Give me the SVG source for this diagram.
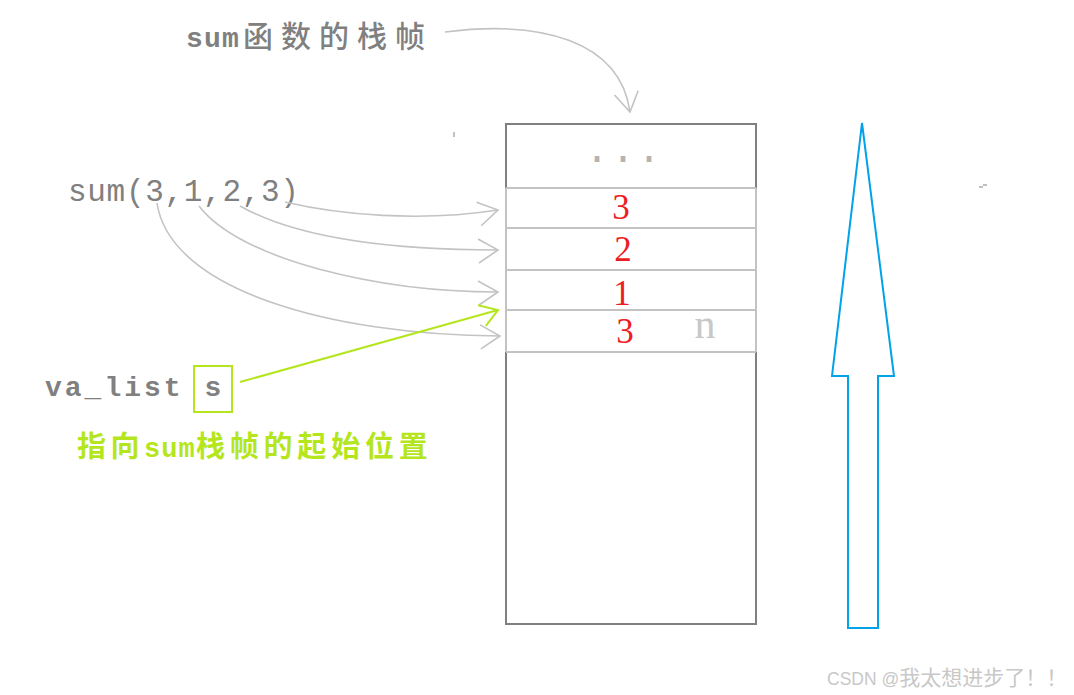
<svg xmlns="http://www.w3.org/2000/svg" width="1074" height="695" viewBox="0 0 1074 695">
<style>
.gray{fill:#808080}
.mono{font-family:"Liberation Mono","Noto Sans CJK SC",monospace}
.cjk{font-family:"Noto Sans CJK SC",sans-serif}
.num{font-family:"Liberation Serif",serif;font-size:35px;fill:#ed1c24;text-anchor:middle}
.conn{fill:none;stroke:#c3c3c3;stroke-width:1.6}
.green{fill:none;stroke:#b5e61d;stroke-width:2}
.row{stroke:#c3c3c3;stroke-width:2}
</style>
<defs>
<marker id="ag" viewBox="-22 -16 26 32" refX="0" refY="0" markerWidth="26" markerHeight="32" markerUnits="userSpaceOnUse" orient="auto">
<path d="M-20,-11 L0,0 L-19,13" fill="none" stroke="#c3c3c3" stroke-width="1.6"/>
</marker>
<marker id="agr" viewBox="-22 -16 26 32" refX="0" refY="0" markerWidth="26" markerHeight="32" markerUnits="userSpaceOnUse" orient="auto">
<path d="M-18,-10 L0,0 L-16,12" fill="none" stroke="#b5e61d" stroke-width="2"/>
</marker>
</defs>
<rect width="1074" height="695" fill="#fff"/>

<g id="title-label">
<text x="186" y="47" class="gray" font-size="28"><tspan class="mono" font-weight="bold" letter-spacing="1.2">sum</tspan><tspan class="cjk" dx="3" font-size="30" font-weight="500" letter-spacing="8">函数的栈帧</tspan></text>
</g>

<g id="call-label">
<text x="68" y="201" class="gray mono" font-size="31" letter-spacing="0.7">sum(3,1,2,3)</text>
</g>

<g id="valist">
<text x="45" y="396" class="gray mono" font-size="28" font-weight="bold" letter-spacing="3">va_list</text>
<rect x="194" y="366" width="38" height="46" fill="none" stroke="#b5e61d" stroke-width="2"/>
<text x="213" y="396" class="gray mono" font-size="28" font-weight="bold" text-anchor="middle">s</text>
</g>

<g id="pointer-note">
<text x="77" y="457" fill="#b5e61d" font-size="29" font-weight="bold"><tspan class="cjk" letter-spacing="4.5">指向</tspan><tspan class="mono" font-size="27" letter-spacing="1.1">sum</tspan><tspan class="cjk" letter-spacing="4.8">栈帧的起始位置</tspan></text>
</g>

<g id="stack">
<rect x="506" y="124" width="250" height="500" fill="#fff" stroke="#808080" stroke-width="2"/>
<line x1="506" y1="188" x2="506" y2="352" class="row"/>
<line x1="756" y1="188" x2="756" y2="352" class="row"/>
<line x1="506" y1="188" x2="756" y2="188" class="row"/>
<line x1="506" y1="228" x2="756" y2="228" class="row"/>
<line x1="506" y1="270" x2="756" y2="270" class="row"/>
<line x1="506" y1="310" x2="756" y2="310" class="row"/>
<line x1="506" y1="352" x2="756" y2="352" class="row"/>
<text x="585" y="162" class="mono" font-size="40" fill="#b4b4b4" letter-spacing="2">...</text>
<text x="621" y="219" class="num">3</text>
<text x="623" y="261" class="num">2</text>
<text x="622" y="305" class="num">1</text>
<text x="625" y="343" class="num">3</text>
<text x="705" y="338" font-family="Liberation Serif,serif" font-size="42" fill="#c8c8c8" text-anchor="middle">n</text>
</g>

<g id="growth-arrow">
<polygon points="862,123 894,376 878,376 878,628 848,628 848,376 832,376" fill="none" stroke="#00a2e8" stroke-width="2"/>
</g>

<g id="connectors">
<path class="conn" d="M445,32 C540,20 620,40 630,112" marker-end="url(#ag)"/>
<path class="conn" d="M285,202 C340,215 420,222 498,210" marker-end="url(#ag)"/>
<path class="conn" d="M240,206 C300,240 400,250 498,250" marker-end="url(#ag)"/>
<path class="conn" d="M199,206 C240,260 380,292 498,292" marker-end="url(#ag)"/>
<path class="conn" d="M157,203 C170,290 330,335 500,336" marker-end="url(#ag)"/>
<path class="green" d="M240,382 L498,310" marker-end="url(#agr)"/>
</g>

<g id="marks">
<rect x="453" y="132" width="2" height="5" fill="#c0c0c0"/>
<path d="M979,187 H983 M983,185 H987" stroke="#c0c0c0" stroke-width="2"/>
</g>

<g id="watermark">
<text x="827" y="685" fill="#c8c8c8" font-size="17.5" font-family="Liberation Sans,Arial,sans-serif">CSDN @<tspan class="cjk" font-size="21">我太想进步了！！</tspan></text>
</g>
</svg>
